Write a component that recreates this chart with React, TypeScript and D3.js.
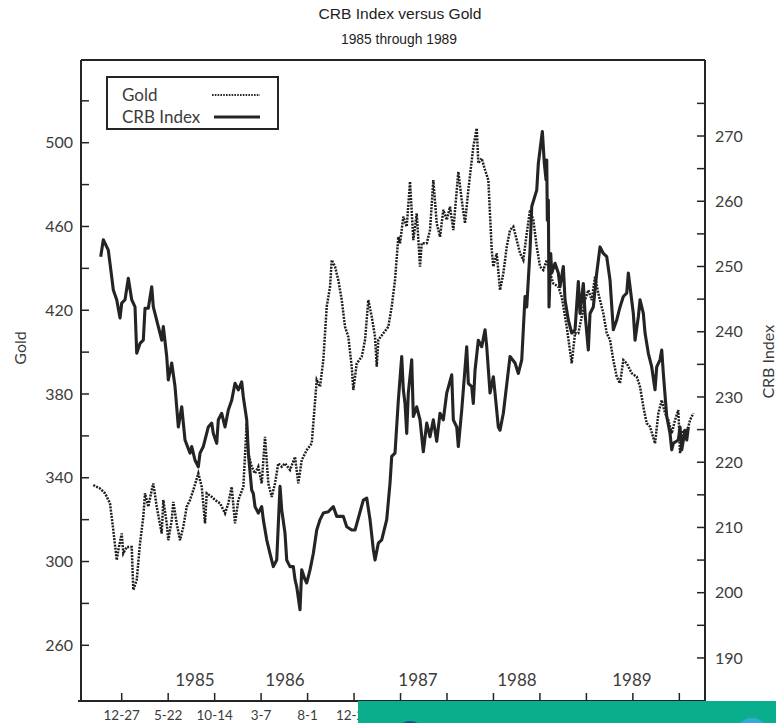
import React from 'react';
import * as d3 from 'd3';

const titleLines = ['CRB Index versus Gold', '1985 through 1989'];
const dateTickLabels = ['12-27', '5-22', '10-14', '3-7', '8-1', '12-26', '5-22', '10-16', '3-11', '8-5', '12-30', '5-26', '10-20'];
const dateTickWeeks = [0, 21, 42, 63, 84, 105, 126, 147, 168, 189, 210, 231, 252];
const yearLabels = ['1985', '1986', '1987', '1988', '1989'];
const yearLabelWeeks = [33.1, 73.8, 133.9, 178.6, 230.6];
const goldTicks = d3.range(260, 521, 20);
const goldLabelled = [260, 300, 340, 380, 420, 460, 500];
const crbTicks = d3.range(190, 276, 5);
const crbLabelled = [190, 200, 210, 220, 230, 240, 250, 260, 270];

// [weeks since 12-27-84, CRB Index]
const crb: [number, number][] = [
  [-9.49, 251.5], [-8.32, 254.1], [-6.06, 252.5], [-4.52, 248.4], [-3.8, 246.4], [-2.26, 244.9], [-0.77, 242.1], [0, 244.4],
  [1.49, 244.9], [2.98, 248.2], [4.52, 244.9], [6.01, 243.8], [6.78, 236.7], [8.27, 238.2], [9.76, 238.7], [10.53, 243.6],
  [12.02, 243.6], [13.56, 246.9], [14.28, 243.8], [16.54, 240.8], [18.08, 238.7], [18.8, 240.8], [20.34, 236.2], [21.06, 232.6],
  [22.6, 235.2], [24.09, 231.6], [25.58, 225.4], [27.12, 228.5], [28.61, 223.4], [30.87, 221.4], [31.64, 222.4], [33.13, 220.3],
  [34.62, 219.3], [35.39, 221.4], [36.88, 222.4], [39.14, 225.4], [40.67, 226.0], [41.4, 224.4], [42.93, 222.9], [43.66, 226.5],
  [45.19, 227.5], [46.68, 225.4], [48.18, 228.0], [49.71, 229.5], [51.2, 232.1], [52.7, 231.1], [54.23, 232.3], [54.96, 230.0],
  [56.49, 226.5], [57.22, 221.4], [58.75, 215.7], [59.48, 215.2], [60.24, 213.2], [61.73, 212.2], [63.27, 213.2], [63.99, 211.2],
  [65.53, 208.1], [67.02, 206.0], [68.51, 204.0], [70.05, 205.0], [71.54, 216.3], [72.31, 212.7], [73.8, 209.1], [74.57, 205.0],
  [76.06, 204.0], [77.55, 204.0], [78.32, 202.0], [79.09, 200.9], [80.58, 197.4], [81.35, 203.5], [82.84, 202.0], [83.61, 201.5],
  [85.1, 203.5], [86.59, 206.0], [88.13, 209.6], [89.62, 211.2], [91.11, 212.2], [93.37, 212.4], [95.63, 213.2], [97.17, 211.7],
  [100.15, 211.7], [101.69, 210.1], [103.95, 209.6], [105.44, 209.6], [109.19, 214.2], [110.73, 214.5], [112.22, 211.2], [113.71, 206.6],
  [114.48, 205.0], [115.97, 207.6], [117.5, 208.1], [119.76, 211.2], [121.25, 216.8], [122.02, 220.9], [123.51, 221.4], [125.01, 229.5],
  [126.54, 236.2], [127.27, 231.1], [128.03, 229.0], [128.8, 224.4], [129.52, 230.6], [131.06, 235.7], [131.79, 227.0], [133.32, 228.5],
  [134.81, 226.5], [136.3, 221.6], [137.84, 226.0], [139.33, 223.9], [140.82, 226.5], [142.36, 223.2], [143.85, 227.5], [145.34, 226.5],
  [146.88, 230.6], [149.14, 233.4], [149.86, 226.5], [151.4, 225.4], [152.12, 222.4], [153.66, 228.0], [155.92, 237.7], [156.64, 232.1],
  [158.18, 231.6], [158.9, 229.0], [159.67, 234.1], [161.16, 238.7], [162.7, 237.7], [164.19, 240.3], [164.96, 237.7], [166.45, 230.6],
  [167.94, 233.1], [168.71, 230.6], [170.2, 225.4], [170.97, 224.9], [172.46, 227.5], [175.49, 236.2], [177.75, 235.2], [179.24, 233.6],
  [180.78, 235.7], [182.27, 245.4], [183.04, 243.8], [184.53, 252.5], [185.3, 259.2], [187.56, 261.7], [188.28, 265.8], [189.05, 267.9],
  [190.09, 270.7], [190.99, 265.8], [191.76, 263.3], [192.08, 266.3], [192.35, 257.1], [192.8, 260.2], [193.11, 243.8], [193.88, 252.0],
  [194.33, 249.0], [195.82, 250.5], [197.31, 249.0], [198.08, 246.9], [199.57, 250.0], [200.34, 244.9], [201.83, 241.8], [203.37, 239.8],
  [204.86, 240.3], [206.35, 247.7], [207.12, 242.8], [208.61, 247.4], [209.38, 242.8], [210.87, 237.2], [211.64, 242.8], [213.13, 243.8],
  [214.67, 249.0], [216.16, 253.0], [217.65, 252.0], [219.19, 251.5], [220.68, 247.9], [222.17, 240.3], [223.71, 241.8], [225.2, 243.8],
  [226.69, 245.4], [228.23, 245.9], [228.95, 249.0], [229.72, 246.9], [231.21, 242.8], [231.98, 238.7], [233.47, 242.3], [234.24, 244.9],
  [235.73, 242.8], [236.5, 239.8], [237.99, 236.7], [239.52, 234.6], [241.01, 231.1], [241.78, 234.6], [243.27, 235.7], [244.05, 237.2],
  [244.77, 233.6], [246.31, 227.0], [247.8, 224.4], [248.57, 221.9], [249.29, 222.9], [251.55, 223.4], [252.32, 225.4], [253.09, 221.9],
  [254.58, 224.9], [255.35, 223.4], [256.07, 225.4],
];

// [weeks since 12-27-84, Gold $/oz]
const gold: [number, number][] = [
  [-12.84, 336.5], [-9.81, 334.9], [-7.55, 332.6], [-5.29, 327.8], [-3.8, 315.0], [-2.26, 300.7], [-1.54, 305.5], [0, 313.4],
  [0.72, 303.9], [2.26, 307.0], [4.52, 307.0], [5.24, 286.4], [6.78, 291.1], [8.27, 308.7], [9.76, 321.4], [10.53, 332.6],
  [12.02, 326.2], [13.56, 334.1], [14.28, 337.3], [15.82, 326.2], [18.08, 313.4], [18.8, 329.4], [20.34, 318.2], [21.06, 310.2],
  [22.6, 319.8], [23.32, 328.5], [24.86, 318.2], [26.35, 310.2], [27.84, 316.6], [29.38, 326.2], [30.87, 329.4], [32.36, 334.1],
  [34.62, 342.1], [36.16, 335.7], [37.65, 318.2], [38.41, 332.6], [40.67, 330.9], [42.16, 329.4], [44.43, 327.8], [46.69, 323.0],
  [48.18, 327.8], [49.71, 335.7], [51.2, 318.2], [52.7, 329.4], [54.96, 335.7], [56.49, 366.0], [57.22, 351.7], [58.75, 345.3],
  [60.24, 342.1], [61.73, 345.3], [63.27, 337.3], [64.76, 359.6], [66.25, 337.3], [67.79, 330.9], [69.28, 337.3], [70.77, 346.9],
  [72.31, 345.3], [73.8, 346.9], [76.06, 343.7], [78.32, 350.0], [79.81, 337.3], [81.35, 348.5], [83.61, 353.2], [85.87, 356.4],
  [88.13, 386.7], [89.62, 383.5], [91.11, 396.2], [92.65, 421.7], [94.14, 431.2], [94.91, 444.0], [96.4, 440.8], [97.89, 434.4],
  [99.43, 424.9], [100.92, 412.1], [102.41, 407.3], [103.95, 393.0], [104.67, 381.9], [106.21, 394.6], [108.47, 397.8], [109.96, 405.8],
  [111.45, 424.9], [112.99, 416.9], [114.48, 407.3], [115.25, 393.0], [115.97, 405.8], [118.23, 409.0], [120.49, 412.1], [122.02, 421.7],
  [123.51, 434.4], [125.01, 455.1], [125.78, 452.0], [127.27, 464.7], [128.8, 459.9], [130.29, 481.4], [131.79, 453.5], [133.32, 466.3],
  [134.81, 440.8], [135.58, 452.0], [137.84, 452.0], [139.33, 458.3], [140.82, 482.2], [142.36, 461.5], [143.85, 455.1], [145.34, 467.9],
  [146.88, 463.1], [148.37, 469.4], [149.86, 458.3], [152.12, 486.1], [153.66, 472.6], [155.15, 461.5], [156.64, 477.4], [158.9, 498.1],
  [160.44, 506.9], [161.16, 490.2], [162.7, 492.5], [164.19, 487.0], [165.68, 482.2], [167.22, 448.8], [167.94, 440.8], [169.48, 447.2],
  [170.97, 429.6], [172.46, 437.6], [174.0, 450.3], [175.49, 458.3], [176.98, 459.9], [178.52, 453.5], [180.01, 447.2], [181.5, 444.0],
  [183.04, 456.7], [184.53, 467.9], [186.02, 463.1], [187.56, 450.3], [189.05, 440.8], [190.54, 439.2], [192.08, 444.0], [193.57, 437.6],
  [195.06, 432.8], [197.32, 431.2], [198.85, 426.4], [201.11, 412.1], [203.37, 394.6], [204.86, 409.0], [206.35, 409.0], [207.89, 416.9],
  [209.38, 424.9], [210.87, 429.6], [212.41, 424.9], [213.9, 436.0], [215.39, 428.1], [217.65, 418.5], [219.19, 409.0], [220.68, 405.8],
  [222.17, 396.2], [223.71, 388.2], [225.2, 385.1], [226.69, 396.2], [228.23, 394.6], [230.49, 389.9], [232.75, 388.2], [234.24, 383.5],
  [235.73, 373.9], [237.27, 366.0], [238.76, 364.4], [241.02, 356.4], [242.51, 370.8], [244.05, 377.1], [245.54, 370.8], [247.03, 367.6],
  [248.57, 361.2], [250.06, 367.6], [251.55, 372.3], [252.32, 351.7], [253.81, 362.8], [255.35, 361.2], [256.84, 367.6], [258.33, 370.8],
];

const W = 776;
const H = 723;
const LEFT = 81;
const RIGHT = 705;
const TOP = 60;
const BOTTOM = 701;
const FONT = "Lato, 'Open Sans', sans-serif";
const TITLE_FONT = "'Liberation Sans', Arial, sans-serif";
const INK = '#242424';
const TEXT = '#3c3c3c';
const GOLD_DASH = '2,1.2';

export default function App() {
  const x = d3.scaleLinear().domain([-18.4, 263.6]).range([LEFT, RIGHT]);
  const yGold = d3.scaleLinear().domain([233.4, 539.5]).range([BOTTOM, TOP]);
  const yCrb = d3.scaleLinear().domain([183.4, 281.65]).range([BOTTOM, TOP]);

  const goldLine = d3.line<[number, number]>().x((d) => x(d[0])).y((d) => yGold(d[1]));
  const crbLine = d3.line<[number, number]>().x((d) => x(d[0])).y((d) => yCrb(d[1]));

  return (
    <svg width={W} height={H} style={{ position: 'absolute', left: 0, top: 0, background: '#fff' }}>
      <rect x={0} y={0} width={W} height={H} fill="#fff" />
      {/* title */}
      <text x={400} y={19} textAnchor="middle" fontFamily={TITLE_FONT} fontSize={15.5} fill="#1e1e1e"
        textLength={163} lengthAdjust="spacingAndGlyphs">
        {titleLines[0]}
      </text>
      <text x={399} y={44} textAnchor="middle" fontFamily={TITLE_FONT} fontSize={15.5} fill="#1e1e1e"
        textLength={116} lengthAdjust="spacingAndGlyphs">
        {titleLines[1]}
      </text>

      {/* series */}
      <path d={goldLine(gold) || ''} fill="none" stroke="#1e1e1e" strokeWidth={2.5} strokeDasharray={GOLD_DASH} />
      <path d={crbLine(crb) || ''} fill="none" stroke={INK} strokeWidth={3.1} strokeLinejoin="round" />

      {/* frame */}
      <line x1={LEFT} x2={RIGHT} y1={TOP} y2={TOP} stroke={INK} strokeWidth={2} />
      <line x1={LEFT} x2={LEFT} y1={TOP} y2={BOTTOM} stroke={INK} strokeWidth={2} />
      <line x1={RIGHT} x2={RIGHT} y1={TOP} y2={BOTTOM} stroke={INK} strokeWidth={2} />
      <line x1={LEFT - 3} x2={RIGHT} y1={BOTTOM} y2={BOTTOM} stroke={INK} strokeWidth={2} />

      {/* left axis */}
      {goldTicks.map((t) => (
        <g key={'g' + t}>
          <line x1={LEFT} x2={LEFT + 8} y1={yGold(t)} y2={yGold(t)} stroke={INK} strokeWidth={1.5} />
          {goldLabelled.includes(t) && (
            <text x={LEFT - 8} y={yGold(t)} dy="0.35em" textAnchor="end" fontFamily={FONT} fontSize={16} fill={TEXT}>
              {t}
            </text>
          )}
        </g>
      ))}
      <text transform={`translate(20,${yGold(402)}) rotate(-90)`} textAnchor="middle" dy="0.35em" fontFamily={FONT} fontSize={16} fill={TEXT}>
        Gold
      </text>

      {/* right axis */}
      {crbTicks.map((t) => (
        <g key={'c' + t}>
          <line x1={RIGHT - 8} x2={RIGHT} y1={yCrb(t)} y2={yCrb(t)} stroke={INK} strokeWidth={1.5} />
          {crbLabelled.includes(t) && (
            <text x={RIGHT + 10} y={yCrb(t)} dy="0.35em" textAnchor="start" fontFamily={FONT} fontSize={16} fill={TEXT}>
              {t}
            </text>
          )}
        </g>
      ))}
      <text transform={`translate(768,${yCrb(235.4)}) rotate(-90)`} textAnchor="middle" dy="0.35em" fontFamily={FONT} fontSize={16} fill={TEXT}>
        CRB Index
      </text>

      {/* bottom axis */}
      {dateTickWeeks.map((w, i) => (
        <g key={'d' + w}>
          <line x1={x(w)} x2={x(w)} y1={BOTTOM - 8} y2={BOTTOM} stroke={INK} strokeWidth={1.5} />
          <text x={x(w)} y={BOTTOM + 14} dy="0.35em" textAnchor="middle" fontFamily={FONT} fontSize={13.5} fill={TEXT}>
            {dateTickLabels[i]}
          </text>
        </g>
      ))}
      {yearLabels.map((lab, i) => (
        <text key={lab} x={x(yearLabelWeeks[i])} y={BOTTOM - 21} dy="0.35em" textAnchor="middle" fontFamily={FONT} fontSize={17} fill={TEXT}>
          {lab}
        </text>
      ))}

      {/* legend */}
      <rect x={107} y={77} width={171} height={52} fill="#fff" stroke={INK} strokeWidth={2} />
      <text x={122} y={95} dy="0.35em" fontFamily={FONT} fontSize={17} fill={TEXT}>Gold</text>
      <line x1={212} x2={260} y1={95} y2={95} stroke="#2a2a2a" strokeWidth={1.8} strokeDasharray="1.6,1.2" />
      <text x={122} y={117} dy="0.35em" fontFamily={FONT} fontSize={17} fill={TEXT}>CRB Index</text>
      <line x1={214} x2={260} y1={117} y2={117} stroke={INK} strokeWidth={2.9} />

      {/* overlay bar at the bottom of the picture */}
      <rect x={358} y={BOTTOM} width={W - 358} height={H - BOTTOM} fill="#0aae8c" />
      <circle cx={410} cy={736} r={15} fill="#1d4f8f" />
      <circle cx={752} cy={734} r={16} fill="#36a9e1" />
    </svg>
  );
}
